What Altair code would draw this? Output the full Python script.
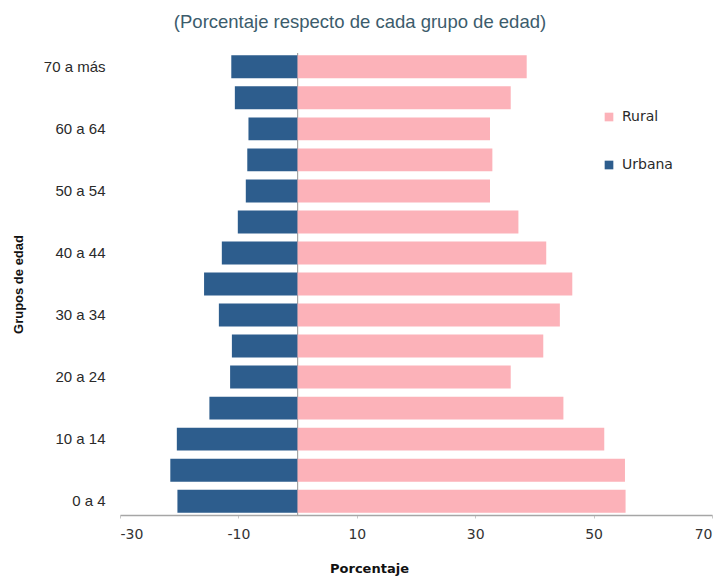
import altair as alt
import pandas as pd

# Age groups, youngest first
grupos = ["0 a 4", "5 a 9", "10 a 14", "15 a 19", "20 a 24", "25 a 29",
          "30 a 34", "35 a 39", "40 a 44", "45 a 49", "50 a 54", "55 a 59",
          "60 a 64", "65 a 69", "70 a más"]

# Share of each age group (%), urban drawn to the left of zero
urbana = [20.3, 21.5, 20.4, 14.9, 11.4, 11.1, 13.3, 15.8, 12.8, 10.1,
          8.75, 8.5, 8.3, 10.6, 11.2]
rural = [55.4, 55.3, 51.8, 44.9, 36.0, 41.5, 44.3, 46.4, 42.0, 37.3,
         32.5, 32.9, 32.5, 36.0, 38.7]

etiquetas = ["0 a 4", "10 a 14", "20 a 24", "30 a 34", "40 a 44",
             "50 a 54", "60 a 64", "70 a más"]
ticks_x = [-30, -10, 10, 30, 50, 70]

rows = []
for g, u, r in zip(grupos, urbana, rural):
    rows.append({"grupo": g, "area": "Urbana", "valor": -u})
    rows.append({"grupo": g, "area": "Rural", "valor": r})
df = pd.DataFrame(rows)

FONT = "Liberation Sans"
WFONT = "DejaVu Sans"

y_enc = alt.Y(
    "grupo:N",
    sort=grupos[::-1],
    scale=alt.Scale(paddingInner=0.26, paddingOuter=0.075),
    axis=alt.Axis(
        values=etiquetas, title="Grupos de edad", domain=False, ticks=False,
        tickSize=0, labelPadding=15, labelFont=FONT, labelFontSize=15,
        labelColor="#2a2a2a", titleFont=FONT, titleFontSize=13,
        titleFontWeight="bold", titleColor="#111111", titleAngle=270,
        titleX=-102, titleY=231, titleAlign="center", titleBaseline="middle",
    ),
)

x_enc = alt.X(
    "valor:Q",
    scale=alt.Scale(domain=[-30, 70], nice=False, zero=False),
    axis=alt.Axis(
        values=ticks_x, labelExpr="'' + datum.value", title="Porcentaje",
        grid=False, domainColor="#a6a6a6", domainWidth=1.5,
        tickColor="#c8c8c8", tickSize=3, labelPadding=9,
        labelFont=WFONT, labelFontSize=14, labelColor="#333333",
        titleFont=WFONT, titleFontSize=13, titleFontWeight="bold",
        titleColor="#111111", titleX=249, titleY=53, titleAlign="center",
        titleBaseline="middle",
    ),
)

bars = alt.Chart(df).mark_bar().encode(
    y=y_enc,
    x=x_enc,
    color=alt.Color(
        "area:N",
        scale=alt.Scale(domain=["Rural", "Urbana"], range=["#fcb2b9", "#2d5d8d"]),
        legend=alt.Legend(
            title=None, orient="none", legendX=482, legendY=57,
            symbolType="square", symbolSize=75, symbolStrokeWidth=0,
            labelFont=WFONT, labelFontSize=14, labelColor="#2a2a2a",
            rowPadding=34, labelOffset=6,
        ),
    ),
)

zero_line = alt.Chart(pd.DataFrame({"x": [0]})).mark_rule(
    color="#a6a6a6", strokeWidth=1.2
).encode(x=alt.X("x:Q"))

chart = alt.layer(zero_line, bars).properties(
    width=592,
    height=462,
    padding={"left": 120, "top": 53, "right": 9, "bottom": 62},
    autosize=alt.AutoSizeParams(type="none"),
    title=alt.TitleParams(
        "(Porcentaje respecto de cada grupo de edad)", font=FONT,
        fontSize=18.5, fontWeight="normal", color="#3c5c6c", anchor="middle",
        dx=-56, offset=21,
    ),
).configure_view(stroke=None)

chart.save("out.html", embed_options={"renderer": "svg", "actions": False})
